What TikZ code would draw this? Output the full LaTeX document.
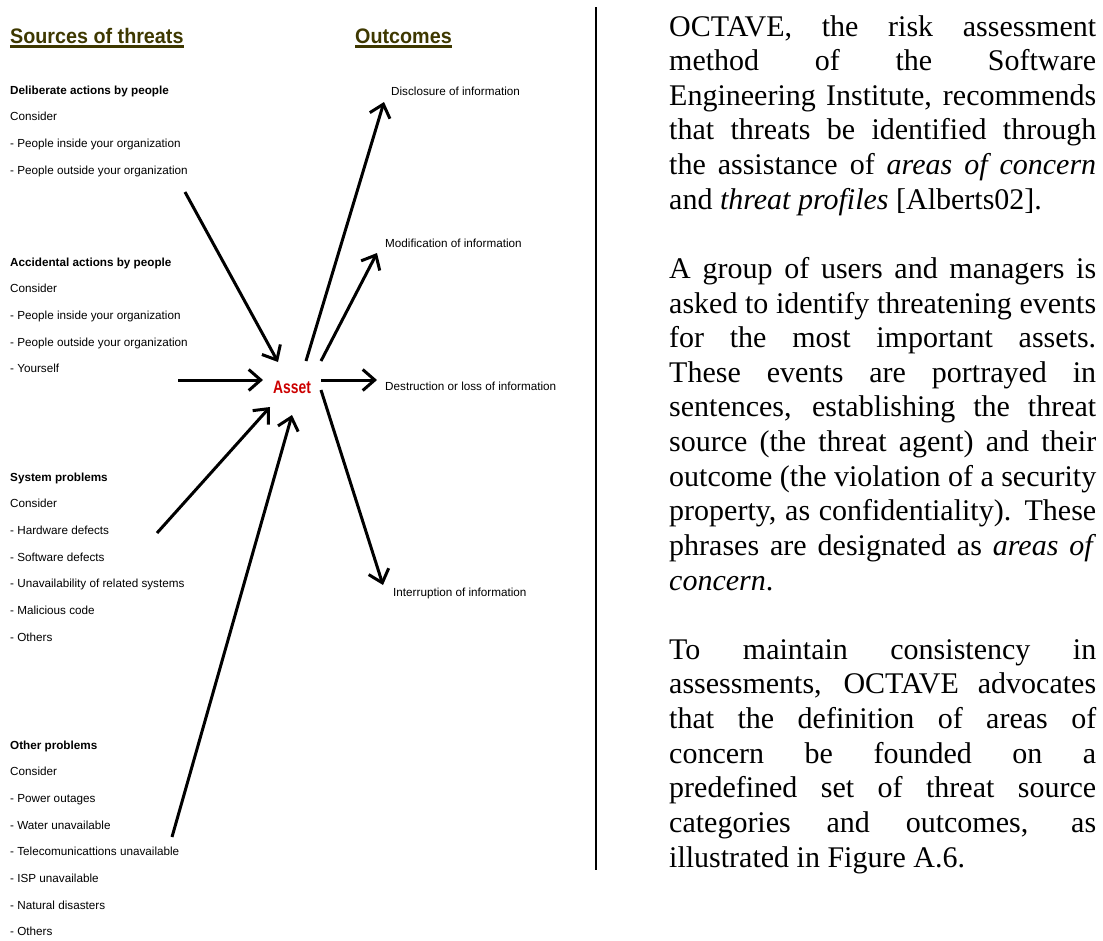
\documentclass[tikz,border=0pt]{standalone}
\usepackage{fontspec}
\usetikzlibrary{arrows.meta}
\setmainfont{Liberation Serif}
\newfontfamily\smallsans{Liberation Sans}
\newfontfamily\headsans[FakeStretch=0.94]{Liberation Sans}
\newfontfamily\assetsans[FakeStretch=0.77]{Liberation Sans}
\definecolor{hdrolive}{RGB}{62,56,0}
\definecolor{assetred}{RGB}{204,0,0}
% one justified line of the explanatory column
\newcommand\jline[1]{\makebox[\linewidth][s]{#1}\par}
\newcommand\lastline[1]{#1\par}
\tikzset{
  hdr/.style={anchor=base west, inner sep=0pt, text=hdrolive,
    font=\headsans\bfseries\fontsize{21}{24}\selectfont},
  hdrline/.style={draw=hdrolive, line width=2.2pt},
  group/.style={anchor=base west, inner sep=0pt},
  outcome/.style={anchor=base west, inner sep=0pt,
    font=\smallsans\fontsize{11.7}{14}\selectfont},
  flow/.style={line width=3pt, -{Straight Barb[length=12pt,width=21pt]}},
  para/.style={anchor=base west, inner sep=0pt},
}
\newcommand\grouptext[1]{\parbox[t]{300pt}{\smallsans\fontsize{11.7}{26.7}\selectfont #1}}
\newcommand\paratext[1]{\parbox[t]{427pt}{\fontsize{30}{34.63}\selectfont #1}}
\begin{document}
\begin{tikzpicture}[x=1pt,y=-1pt]
\useasboundingbox (0,0) rectangle (1103,940);

% column headers
\node[hdr] (srchdr) at (10,43) {Sources of threats};
\node[hdr] (outhdr) at (355,43) {Outcomes};
\draw[hdrline] ([yshift=-3.5pt]srchdr.base west) -- ([yshift=-3.5pt]srchdr.base east);
\draw[hdrline] ([yshift=-3.5pt]outhdr.base west) -- ([yshift=-3.5pt]outhdr.base east);

% threat source groups
\node[group] (deliberate) at (10,94) {\grouptext{%
  \textbf{Deliberate actions by people}\par
  Consider\par
  - People inside your organization\par
  - People outside your organization}};
\node[group] (accidental) at (10,266) {\grouptext{%
  \textbf{Accidental actions by people}\par
  Consider\par
  - People inside your organization\par
  - People outside your organization\par
  - Yourself}};
\node[group] (system) at (10,481) {\grouptext{%
  \textbf{System problems}\par
  Consider\par
  - Hardware defects\par
  - Software defects\par
  - Unavailability of related systems\par
  - Malicious code\par
  - Others}};
\node[group] (other) at (10,749) {\grouptext{%
  \textbf{Other problems}\par
  Consider\par
  - Power outages\par
  - Water unavailable\par
  - Telecomunicattions unavailable\par
  - ISP unavailable\par
  - Natural disasters\par
  - Others}};

% the asset
\node[anchor=base west, inner sep=0pt, text=assetred,
  font=\assetsans\bfseries\fontsize{18}{20}\selectfont] (asset) at (273,393) {Asset};

% outcomes
\node[outcome] (disclosure) at (391,95) {Disclosure of information};
\node[outcome] (modification) at (385,247) {Modification of information};
\node[outcome] (destruction) at (385,390) {Destruction or loss of information};
\node[outcome] (interruption) at (393,596.5) {Interruption of information};

% arrow end points
\coordinate (delS) at (185,192);  \coordinate (delT) at (278,362);
\coordinate (accS) at (178,380);  \coordinate (accT) at (263,380);
\coordinate (sysS) at (157,533);  \coordinate (sysT) at (270,407);
\coordinate (othS) at (172,837);  \coordinate (othT) at (292,415);
\coordinate (disS) at (306,361);  \coordinate (disT) at (384,102);
\coordinate (modS) at (321,361);  \coordinate (modT) at (377,253);
\coordinate (desS) at (321,380);  \coordinate (desT) at (377,380);
\coordinate (intS) at (321,390);  \coordinate (intT) at (383,585);

% sources into the asset
\draw[flow] (delS) -- (delT);
\draw[flow] (accS) -- (accT);
\draw[flow] (sysS) -- (sysT);
\draw[flow] (othS) -- (othT);
% asset to outcomes
\draw[flow] (disS) -- (disT);
\draw[flow] (modS) -- (modT);
\draw[flow] (desS) -- (desT);
\draw[flow] (intS) -- (intT);

% column separator
\coordinate (sepTop) at (596,7);
\coordinate (sepBot) at (596,870);
\draw[line width=2pt] (sepTop) -- (sepBot);

% explanatory text
\node[para] (p1) at (669,36) {\paratext{%
  \jline{OCTAVE, the risk assessment}
  \jline{method of the Software}
  \jline{Engineering Institute, recommends}
  \jline{that threats be identified through}
  \jline{the assistance of \textit{areas of concern}}
  \lastline{and \textit{threat profiles} [Alberts02].}}};
\node[para] (p2) at (669,278.4) {\paratext{%
  \jline{A group of users and managers is}
  \jline{asked to identify threatening events}
  \jline{for the most important assets.}
  \jline{These events are portrayed in}
  \jline{sentences, establishing the threat}
  \jline{source (the threat agent) and their}
  \jline{outcome (the violation of a security}
  \jline{property, as confidentiality). These}
  \jline{phrases are designated as \textit{areas of}}
  \lastline{\textit{concern}.}}};
\node[para] (p3) at (669,659.3) {\paratext{%
  \jline{To maintain consistency in}
  \jline{assessments, OCTAVE advocates}
  \jline{that the definition of areas of}
  \jline{concern be founded on a}
  \jline{predefined set of threat source}
  \jline{categories and outcomes, as}
  \lastline{illustrated in Figure A.6.}}};
\end{tikzpicture}
\end{document}
